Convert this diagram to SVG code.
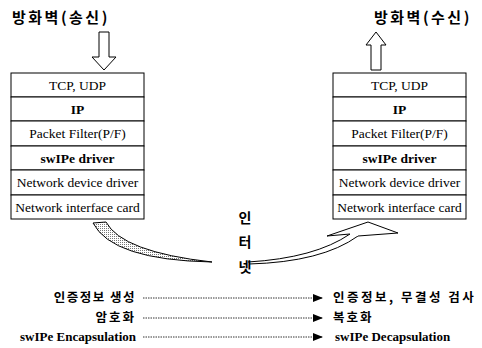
<svg xmlns="http://www.w3.org/2000/svg" width="482" height="348" viewBox="0 0 482 348">
<style>
.box{fill:#fff;stroke:#000;stroke-width:1}
.st{font-family:"Liberation Serif","Times New Roman",serif;font-size:13.5px;fill:#000;text-anchor:middle}
.b{font-weight:bold}
.ko{font-family:"Noto Sans CJK KR",sans-serif;font-weight:bold;fill:#000}
.ser{font-family:"Liberation Serif","Times New Roman",serif;font-weight:bold;fill:#000;font-size:13px}
.dot{stroke:#000;stroke-width:0.8;stroke-dasharray:1.5 1;fill:none}
</style>
<defs>
<marker id="tri" markerWidth="10" markerHeight="8" refX="9" refY="4" orient="auto" markerUnits="userSpaceOnUse">
<path d="M0,0 L10,4 L0,8 Z" fill="#000"/>
</marker>
<pattern id="hatch" width="2" height="2" patternUnits="userSpaceOnUse">
<rect width="2" height="2" fill="#fff"/>
<rect width="1" height="1" fill="#777"/>
</pattern>
</defs>
<rect width="482" height="348" fill="#fff"/>

<g id="title-send">
<text class="ko" x="12" y="23" font-size="15" letter-spacing="2.5">방화벽(송신)</text>
</g>
<g id="title-recv">
<text class="ko" x="374" y="23" font-size="15" letter-spacing="2.5">방화벽(수신)</text>
</g>

<g id="arrow-down">
<path d="M99,32 H109 V57 H116 L104,70 L92,57 H99 Z" fill="#fff" stroke="#000" stroke-width="1"/>
</g>
<g id="arrow-up">
<path d="M376,32 L386,45 H381 V70 H371 V45 H366 Z" fill="#fff" stroke="#000" stroke-width="1"/>
</g>

<g id="stack-send">
<rect class="box" x="11" y="73" width="133" height="24"/>
<text class="st" x="77.5" y="90">TCP, UDP</text>
<rect class="box" x="11" y="97" width="133" height="24"/>
<text class="st b" x="77.5" y="114">IP</text>
<rect class="box" x="11" y="121" width="133" height="25"/>
<text class="st" x="77.5" y="138">Packet Filter(P/F)</text>
<rect class="box" x="11" y="146" width="133" height="24"/>
<text class="st b" x="77.5" y="163">swIPe driver</text>
<rect class="box" x="11" y="170" width="133" height="25"/>
<text class="st" x="77.5" y="187">Network device driver</text>
<rect class="box" x="11" y="195" width="133" height="24"/>
<text class="st" x="77.5" y="212">Network interface card</text>
</g>

<g id="stack-recv">
<rect class="box" x="333" y="73" width="133" height="24"/>
<text class="st" x="399.5" y="90">TCP, UDP</text>
<rect class="box" x="333" y="97" width="133" height="24"/>
<text class="st b" x="399.5" y="114">IP</text>
<rect class="box" x="333" y="121" width="133" height="25"/>
<text class="st" x="399.5" y="138">Packet Filter(P/F)</text>
<rect class="box" x="333" y="146" width="133" height="24"/>
<text class="st b" x="399.5" y="163">swIPe driver</text>
<rect class="box" x="333" y="170" width="133" height="25"/>
<text class="st" x="399.5" y="187">Network device driver</text>
<rect class="box" x="333" y="195" width="133" height="24"/>
<text class="st" x="399.5" y="212">Network interface card</text>
</g>

<g id="internet">
<text class="ko" x="245" y="223" font-size="14" text-anchor="middle">인</text>
<text class="ko" x="245" y="247" font-size="14" text-anchor="middle">터</text>
<text class="ko" x="245" y="272" font-size="14" text-anchor="middle">넷</text>
</g>

<g id="connectors">
<path d="M93,223 L106,222 Q122,252 212,262 Q112,260 93,223 Z" fill="url(#hatch)" stroke="#000" stroke-width="1"/>
<path d="M248,262 Q315,258 350,234" fill="none" stroke="#000" stroke-width="1"/>
<path d="M249,264 Q322,262 358,236" fill="none" stroke="#000" stroke-width="1"/>
<path d="M350,234 L327,236 L368,222 L398,233 L358,236" fill="#fff" stroke="#000" stroke-width="1"/>
<line class="dot" x1="143" y1="298" x2="322" y2="298" marker-end="url(#tri)"/>
<line class="dot" x1="143" y1="318" x2="322" y2="318" marker-end="url(#tri)"/>
<line class="dot" x1="143" y1="337" x2="322" y2="337" marker-end="url(#tri)"/>
</g>

<g id="row1">
<text class="ko" x="136" y="302" font-size="12.5" text-anchor="end" letter-spacing="1.5">인증정보 생성</text>
<text class="ko" x="333" y="302" font-size="12.5" letter-spacing="2.5">인증정보, 무결성 검사</text>
</g>
<g id="row2">
<text class="ko" x="136" y="322" font-size="12.5" text-anchor="end" letter-spacing="2">암호화</text>
<text class="ko" x="333" y="322" font-size="12.5" letter-spacing="2">복호화</text>
</g>
<g id="row3">
<text class="ser" x="136" y="341" text-anchor="end">swIPe Encapsulation</text>
<text class="ser" x="335" y="341">swIPe Decapsulation</text>
</g>
</svg>
